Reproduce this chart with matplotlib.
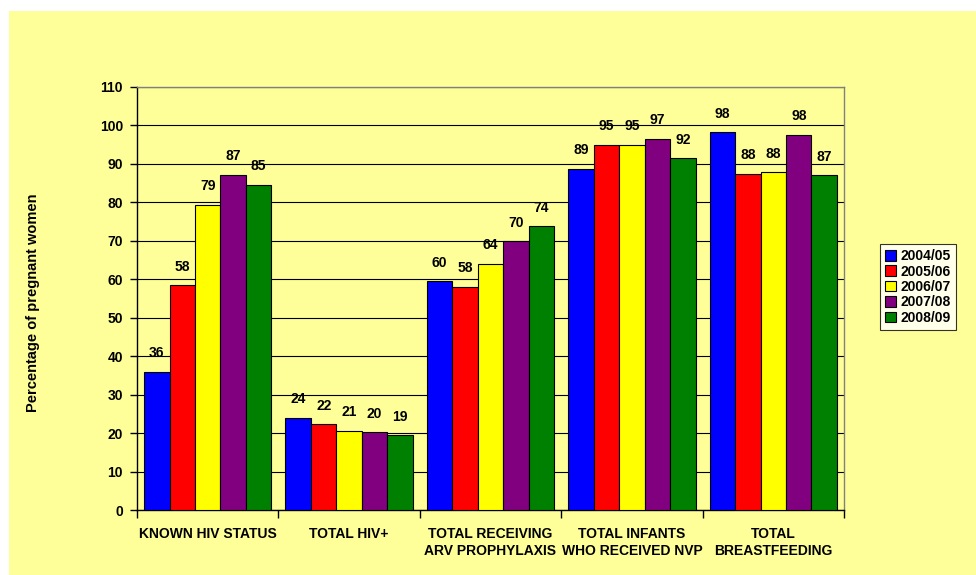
import matplotlib
matplotlib.use("Agg")
import matplotlib.pyplot as plt
import numpy as np

categories = ["KNOWN HIV STATUS", "TOTAL HIV+", "TOTAL RECEIVING\nARV PROPHYLAXIS",
              "TOTAL INFANTS\nWHO RECEIVED NVP", "TOTAL\nBREASTFEEDING"]
series = ["2004/05", "2005/06", "2006/07", "2007/08", "2008/09"]
values = {
    "2004/05": [35.9, 24.0, 59.5, 88.8, 98.2],
    "2005/06": [58.4, 22.3, 58.0, 95.0, 87.5],
    "2006/07": [79.4, 20.6, 64.0, 95.0, 87.8],
    "2007/08": [87.2, 20.2, 69.9, 96.6, 97.6],
    "2008/09": [84.6, 19.4, 73.8, 91.5, 87.0],
}
colors = ["#0000FF", "#FF0000", "#FFFF00", "#800080", "#008000"]
yticks = list(range(0, 111, 10))

plt.rcParams['font.family'] = ['Liberation Sans', 'DejaVu Sans']
fig = plt.figure(figsize=(9.76, 5.75), dpi=100)
fig.patch.set_facecolor("white")
bg = plt.Rectangle((9 / 976, 0), 1, 1 - 11 / 575, transform=fig.transFigure,
                   facecolor="#FFFF99", edgecolor="none", zorder=-10)
fig.patches.append(bg)

ax = fig.add_axes([137 / 976, 1 - 510 / 575, (844 - 137) / 976, (510 - 87) / 575])
ax.set_facecolor("#FFFF99")

n = len(series)
bw = 0.9 / n
x = np.arange(len(categories))
for i, s in enumerate(series):
    pos = x - 0.45 + bw * (i + 0.5)
    ax.bar(pos, values[s], width=bw, color=colors[i], edgecolor="black",
           linewidth=0.8, label=s, zorder=3)
    for px, v in zip(pos, values[s]):
        ax.text(px, v + 3.0, f"{v:.0f}", ha="center", va="bottom",
                fontsize=10, fontweight="bold", zorder=4)

ax.set_xlim(-0.5, len(categories) - 0.5)
ax.set_ylim(0, 110)
ax.set_yticks(yticks)
ax.set_yticklabels([str(t) for t in yticks], fontsize=10, fontweight="bold")
ax.yaxis.grid(True, color="black", linewidth=0.8, zorder=0)
ax.set_axisbelow(True)

ax.set_xticks(x)
ax.set_xticklabels(categories, fontsize=10, fontweight="bold", linespacing=1.3)
ax.tick_params(axis="x", length=0, pad=12)
ax.set_xticks(np.arange(-0.5, len(categories)), minor=True)
ax.tick_params(axis="x", which="minor", length=6, width=1, direction="out")
ax.tick_params(axis="y", length=5, width=1, direction="out", pad=5)

for sp in ["left", "bottom"]:
    ax.spines[sp].set_color("black")
    ax.spines[sp].set_linewidth(1)
for sp in ["right", "top"]:
    ax.spines[sp].set_color("#808080")
    ax.spines[sp].set_linewidth(1)

fig.text(33 / 976, 1 - 303 / 575, "Percentage of pregnant women", rotation=90,
         ha="center", va="center", fontsize=10.5, fontweight="bold")

leg = fig.legend(loc="center", bbox_to_anchor=(918 / 976, 1 - 287 / 575),
                 prop={"size": 10, "weight": "bold"}, frameon=True,
                 fancybox=False, edgecolor="black", facecolor="white",
                 handlelength=0.8, handleheight=0.8, handletextpad=0.3,
                 labelspacing=0.1, borderpad=0.4)
leg.get_frame().set_linewidth(0.8)

fig.savefig("out.png", dpi=100, facecolor=fig.get_facecolor())
